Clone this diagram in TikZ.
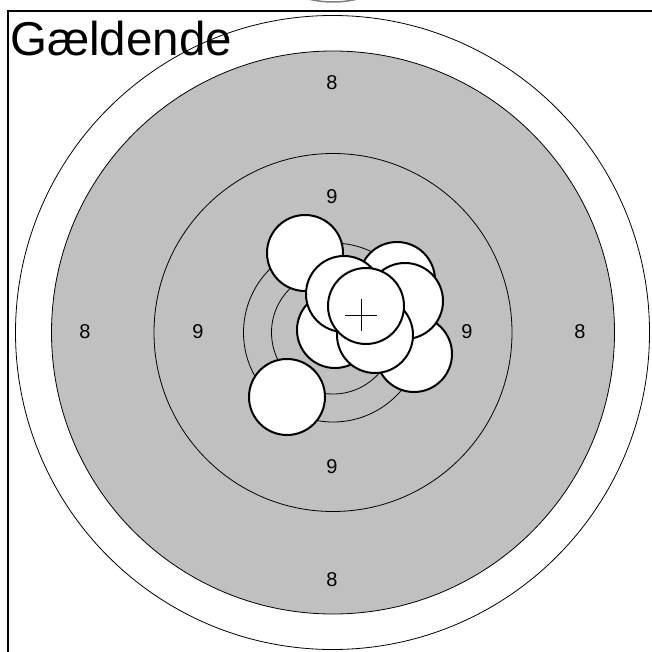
\documentclass[tikz,border=0pt]{standalone}
\usepackage{fontspec}
\setmainfont{Liberation Sans}
\usetikzlibrary{positioning}

\begin{document}
\begin{tikzpicture}[
        x=1pt, y=-1pt,
        ringLine/.style={draw=black, line width=0.8pt},
        ringLabel/.style={font=\fontsize{20}{20}\selectfont, inner sep=0pt},
        shotHole/.style={
            circle, draw=black, line width=2pt, fill=white,
            minimum size=76pt, inner sep=0pt
        },
        frameLine/.style={draw=black, line width=1.8pt}
    ]
        \useasboundingbox (0,0) rectangle (652,652);
        \definecolor{targetGray}{RGB}{192,192,192}

        % Rings
        \draw[ringLine] (332.5,332.5) circle (317pt);
        \filldraw[ringLine, fill=targetGray] (333,332.5) circle (281.5pt);
        \draw[ringLine] (333,332.5) circle (179pt);
        \draw[ringLine] (333,332.5) circle (89.5pt);
        \draw[ringLine] (333,332.5) circle (61.5pt);
        \draw[gray, line width=1.5pt] (333,-100) circle (102pt);

        % Frame
        \coordinate (frameCorner) at (8,11);
        \coordinate (frameRight) at (652,11);
        \coordinate (frameBottom) at (8,652);
        \draw[frameLine] (frameRight) -- (frameCorner) -- (frameBottom);

        % Labels
        \node (title) [anchor=base west, inner sep=0pt, font=\fontsize{47.5}{47.5}\selectfont] at (10,56) {Gældende};
        \node (eightTop) [ringLabel] at (332,83) {8};
        \node (eightLeft) [ringLabel] at (85,332) {8};
        \node (eightRight) [ringLabel] at (580,332) {8};
        \node (eightBottom) [ringLabel] at (332,580) {8};
        \node (nineTop) [ringLabel] at (332,197) {9};
        \node (nineLeft) [ringLabel] at (198,332) {9};
        \node (nineRight) [ringLabel] at (467,332) {9};
        \node (nineBottom) [ringLabel] at (332,467) {9};

        % Shots
        \node (shotB) [shotHole] at (287,397) {};
        \node (shotA) [shotHole] at (305,253) {};
        \node (shotC) [shotHole] at (414,354) {};
        \node (shotD) [shotHole] at (335,330) {};
        \node (shotF) [shotHole] at (397,280) {};
        \node (shotG) [shotHole] at (405,301) {};
        \node (shotE) [shotHole] at (375,335) {};
        \node (shotH) [shotHole] at (344,294) {};
        \node (shotI) [shotHole] at (366,306) {};

        % Aim mark
        \coordinate (aimMark) at (361,315);
        \draw[line width=1pt] ([xshift=-16pt]aimMark) -- ([xshift=16pt]aimMark);
        \draw[line width=1pt] ([yshift=16pt]aimMark) -- ([yshift=-16pt]aimMark);
\end{tikzpicture}
\end{document}
